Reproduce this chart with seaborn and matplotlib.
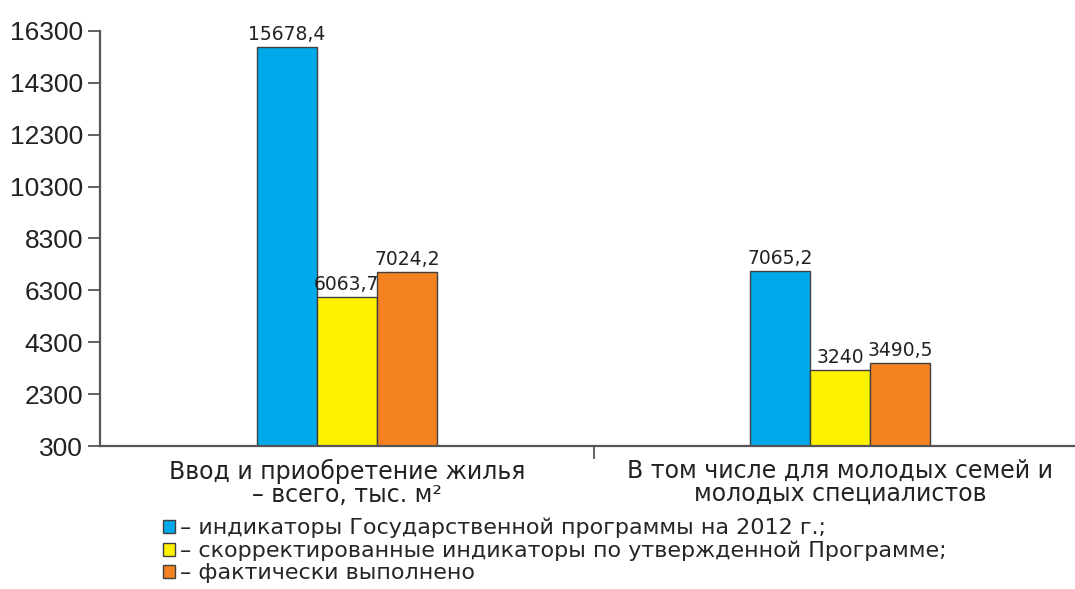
import matplotlib
matplotlib.use("Agg")
import matplotlib.pyplot as plt
import seaborn as sns
import pandas as pd
from matplotlib.patches import Patch

categories = ["Ввод и приобретение жилья\n– всего, тыс. м²",
              "В том числе для молодых семей и\nмолодых специалистов"]
series = ["– индикаторы Государственной программы на 2012 г.;",
          "– скорректированные индикаторы по утвержденной Программе;",
          "– фактически выполнено"]
values_plan = [15678.4, 7065.2]
values_corr = [6063.7, 3240]
values_fact = [7024.2, 3490.5]
colors = ["#00A9EA", "#FFF200", "#F58220"]
yticks = [300, 2300, 4300, 6300, 8300, 10300, 12300, 14300, 16300]

rows = []
for s, vals in zip(series, [values_plan, values_corr, values_fact]):
    for c, v in zip(categories, vals):
        rows.append({"cat": c, "series": s, "value": v})
df = pd.DataFrame(rows)

sns.set_style("white")
plt.rcParams['font.family'] = ['Liberation Sans', 'DejaVu Sans']
WIDE = ['DejaVu Sans']

fig = plt.figure(figsize=(10.75, 5.89), dpi=100)
ax = fig.add_axes([100/1075, 1-446/589, 987/1075, (446-31)/589])
sns.barplot(data=df, x="cat", y="value", hue="series", palette=colors,
            width=0.365, ax=ax, edgecolor="#404040", linewidth=1.0,
            legend=False, errorbar=None, saturation=1)

ax.set_ylim(300, 16300)
ax.set_xlim(-0.5, 1.5)
ax.set_yticks(yticks)
ax.set_yticklabels([str(t) for t in yticks], fontsize=19, color="#222222")
ax.tick_params(axis="y", length=9, width=1.3, color="#555555", direction="out", pad=3, left=True)
ax.set_xticks([0, 1])
ax.set_xticklabels(categories, fontsize=17, color="#222222", linespacing=0.97, family=WIDE)
ax.tick_params(axis="x", length=0, pad=9)
ax.set_xticks([0.5], minor=True)
ax.tick_params(axis="x", which="minor", length=9, width=1.3, color="#555555", bottom=True)
ax.set_xlabel("")
ax.set_ylabel("")
for side in ["top", "right"]:
    ax.spines[side].set_visible(False)
for side in ["left", "bottom"]:
    ax.spines[side].set_color("#555555")
    ax.spines[side].set_linewidth(1.6)

for cont in ax.containers:
    labels = [f"{v:g}".replace(".", ",") for v in cont.datavalues]
    ax.bar_label(cont, labels=labels, fontsize=13.5, padding=2, color="#222222", family=WIDE)

handles = [Patch(facecolor=c, edgecolor="#404040", linewidth=1.0) for c in colors]
fig.legend(handles, series, loc="upper left", bbox_to_anchor=(163/1075, 1-518/589),
           frameon=False, handlelength=0.55, handleheight=0.55,
           handletextpad=0.2, labelspacing=0.1, borderaxespad=0, borderpad=0,
           prop={"family": WIDE, "size": 16})

fig.savefig("out.png", dpi=100)
